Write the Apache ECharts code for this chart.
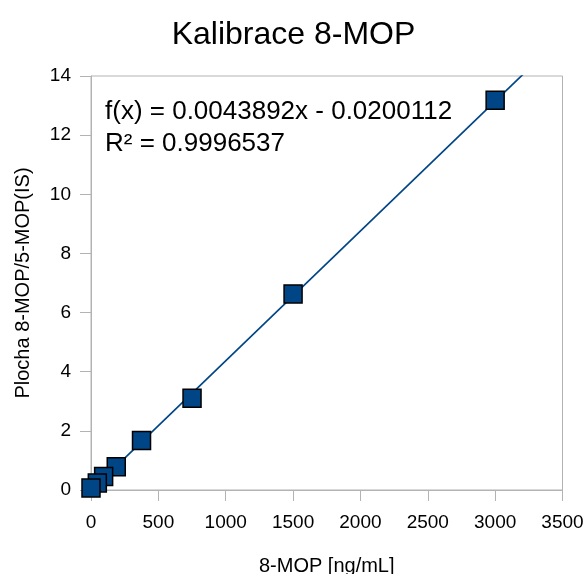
<!DOCTYPE html>
<html>
<head>
<meta charset="utf-8">
<script src="https://cdn.jsdelivr.net/npm/echarts@6/dist/echarts.min.js"></script>
<style>
html,body{margin:0;padding:0;background:#fff;}
#chart{width:587px;height:574px;}
</style>
</head>
<body>
<div id="chart"></div>
<script>
// Data (ordered high to low so the lowest points draw on top, as in the reference)
const concentrations = [3000, 1500, 750, 375, 187.5, 93.75, 46.875, 0];
const ratios = [13.18, 6.63, 3.10, 1.67, 0.79, 0.46, 0.24, 0.07];
const xTicks = [0, 500, 1000, 1500, 2000, 2500, 3000, 3500];
const yTicks = [0, 2, 4, 6, 8, 10, 12, 14];
const trendSlope = 0.0043892;
const trendIntercept = -0.0200112;
const trendX = [0, 3500];
const titleText = 'Kalibrace 8-MOP';
const xName = '8-MOP [ng/mL]';
const yName = 'Plocha 8-MOP/5-MOP(IS)';
const eqLine1 = 'f(x) = 0.0043892x - 0.0200112';
const eqLine2 = 'R² = 0.9996537';

const FONT = 'Liberation Sans, Arial, sans-serif';
const AXIS_COLOR = '#b3b3b3';
const BLUE = '#004586';

const points = concentrations.map((x, i) => [x, ratios[i]]);
const trend = trendX.map(x => [x, trendSlope * x + trendIntercept]);

const chart = echarts.init(document.getElementById('chart'), null, {renderer: 'canvas'});
chart.setOption({
  animation: false,
  backgroundColor: '#fff',
  title: {
    text: titleText,
    left: 'center',
    top: 14,
    textStyle: {fontFamily: FONT, fontSize: 32, fontWeight: 'normal', color: '#000'}
  },
  grid: {
    left: 91, right: 24.5, top: 76, bottom: 84,
    outerBoundsMode: 'none',
    containLabel: false,
    show: true, borderColor: AXIS_COLOR, borderWidth: 1, backgroundColor: 'transparent'
  },
  xAxis: {
    type: 'value',
    min: xTicks[0], max: xTicks[xTicks.length - 1], interval: xTicks[1] - xTicks[0],
    name: xName, nameLocation: 'middle', nameGap: 66,
    nameTextStyle: {fontFamily: FONT, fontSize: 20, color: '#000'},
    axisLine: {show: true, lineStyle: {color: AXIS_COLOR, width: 1}},
    axisTick: {show: true, length: 11, lineStyle: {color: AXIS_COLOR, width: 1}},
    axisLabel: {margin: 23, fontFamily: FONT, fontSize: 19, color: '#000',
                formatter: v => String(v)},
    splitLine: {show: false}
  },
  yAxis: {
    type: 'value',
    min: yTicks[0], max: yTicks[yTicks.length - 1], interval: yTicks[1] - yTicks[0],
    name: yName, nameLocation: 'middle', nameGap: 58,
    nameTextStyle: {fontFamily: FONT, fontSize: 20, color: '#000'},
    axisLine: {show: true, lineStyle: {color: AXIS_COLOR, width: 1}},
    axisTick: {show: true, length: 11, lineStyle: {color: AXIS_COLOR, width: 1}},
    axisLabel: {margin: 20, fontFamily: FONT, fontSize: 19, color: '#000',
                formatter: v => String(v)},
    splitLine: {show: false}
  },
  series: [
    {
      type: 'line',
      data: trend,
      showSymbol: false,
      clip: true,
      lineStyle: {color: BLUE, width: 1.7},
      z: 2,
      silent: true
    },
    {
      type: 'scatter',
      data: points,
      symbol: 'rect',
      symbolSize: 18,
      itemStyle: {color: BLUE, borderColor: '#000', borderWidth: 1.5, opacity: 1},
      z: 3
    }
  ],
  graphic: [
    {type: 'text', left: 105, top: 99,
     style: {text: eqLine1, font: '26px ' + FONT, fill: '#000'}},
    {type: 'text', left: 105, top: 131,
     style: {text: eqLine2, font: '26px ' + FONT, fill: '#000'}}
  ]
});
</script>
</body>
</html>
